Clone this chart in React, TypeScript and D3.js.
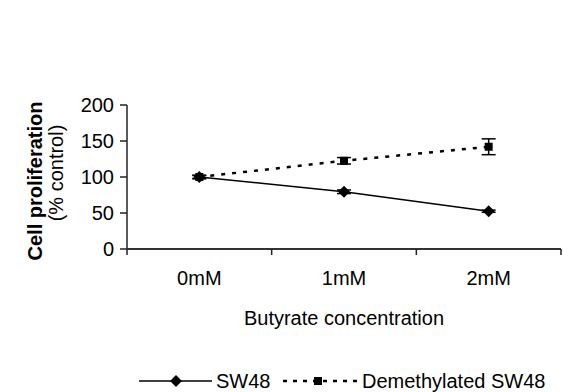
import React from 'react';
import * as d3 from 'd3';

const categories = ['0mM', '1mM', '2mM'];
const sw48 = [100, 79.5, 52.5];
const sw48Err = [2, 2.5, 1.5];
const demethylated = [100, 122.5, 142];
const demethylatedErr = [2.5, 4.5, 11];
const yTicks = [0, 50, 100, 150, 200];

const W = 563;
const H = 392;
const font = 'Arial, "Liberation Sans", Helvetica, sans-serif';
const fs = 20;

export default function App() {
  const left = 127;
  const right = 561;
  const top = 105;
  const bottom = 249;

  const x = d3.scaleBand<string>().domain(categories).range([left, right]);
  const y = d3.scaleLinear().domain([0, 200]).range([bottom, top]);
  const cx = (c: string) => (x(c) as number) + x.bandwidth() / 2;

  const line = d3
    .line<number>()
    .x((_, i) => cx(categories[i]))
    .y((d) => y(d));

  // Excel style diamond: a square turned 45 degrees
  const diamond = d3.symbol().type((d3 as any).symbolDiamond2 || d3.symbolDiamond).size(90);
  const square = d3.symbol().type(d3.symbolSquare).size(64);

  const errorBar = (c: string, v: number, e: number, key: string) => (
    <g key={key} stroke="#000" strokeWidth={1.5}>
      <line x1={cx(c)} x2={cx(c)} y1={y(v + e)} y2={y(v - e)} />
      <line x1={cx(c) - 7} x2={cx(c) + 7} y1={y(v + e)} y2={y(v + e)} />
      <line x1={cx(c) - 7} x2={cx(c) + 7} y1={y(v - e)} y2={y(v - e)} />
    </g>
  );

  const bandEdges = categories.map((c) => x(c) as number).concat([right]);

  return (
    <svg
      width={W}
      height={H}
      style={{ position: 'absolute', left: 0, top: 0, background: '#fff' }}
      fontFamily={font}
    >
      {/* y axis */}
      <line x1={left} x2={left} y1={top} y2={bottom} stroke="#222" strokeWidth={1.5} />
      {yTicks.map((t) => (
        <g key={t}>
          <line x1={left - 7} x2={left} y1={y(t)} y2={y(t)} stroke="#222" strokeWidth={1.5} />
          <text x={left - 13} y={y(t)} dy="0.36em" textAnchor="end" fontSize={fs}>
            {t}
          </text>
        </g>
      ))}
      {/* x axis */}
      <line x1={left} x2={right} y1={bottom} y2={bottom} stroke="#333" strokeWidth={1.8} />
      {bandEdges.map((e, i) => (
        <line key={i} x1={e} x2={e} y1={bottom} y2={bottom + 6} stroke="#222" strokeWidth={1.5} />
      ))}
      {categories.map((c) => (
        <text key={c} x={cx(c)} y={285} textAnchor="middle" fontSize={fs}>
          {c}
        </text>
      ))}
      <text x={(left + right) / 2} y={325} textAnchor="middle" fontSize={fs}>
        Butyrate concentration
      </text>
      <text
        transform={`translate(42,${(top + bottom) / 2 + 4}) rotate(-90)`}
        textAnchor="middle"
        fontSize={fs}
        fontWeight="bold"
      >
        Cell proliferation
      </text>
      <text
        transform={`translate(63,${(top + bottom) / 2 - 4}) rotate(-90)`}
        textAnchor="middle"
        fontSize={fs}
      >
        (% control)
      </text>

      {/* series */}
      <path d={line(sw48) || ''} fill="none" stroke="#000" strokeWidth={1.5} />
      <path d={line(demethylated) || ''} fill="none" stroke="#000" strokeWidth={2.5} strokeDasharray="4,7" />
      {categories.map((c, i) => errorBar(c, sw48[i], sw48Err[i], 'a' + i))}
      {categories.map((c, i) => errorBar(c, demethylated[i], demethylatedErr[i], 'b' + i))}
      {categories.map((c, i) => (
        <path key={'d' + i} d={diamond() || ''} transform={`translate(${cx(c)},${y(sw48[i])})`} fill="#000" />
      ))}
      {categories.map((c, i) => (
        <path key={'s' + i} d={square() || ''} transform={`translate(${cx(c)},${y(demethylated[i])})`} fill="#000" />
      ))}

      {/* legend */}
      <g>
        <line x1={139} x2={212} y1={381} y2={381} stroke="#000" strokeWidth={1.5} />
        <path d={diamond() || ''} transform="translate(176,381)" fill="#000" />
        <text x={216} y={388} fontSize={fs}>
          SW48
        </text>
        <line x1={283} x2={357} y1={381} y2={381} stroke="#000" strokeWidth={2.5} strokeDasharray="4,6" />
        <path d={square() || ''} transform="translate(318,381)" fill="#000" />
        <text x={362} y={388} fontSize={fs}>
          Demethylated SW48
        </text>
      </g>
    </svg>
  );
}
